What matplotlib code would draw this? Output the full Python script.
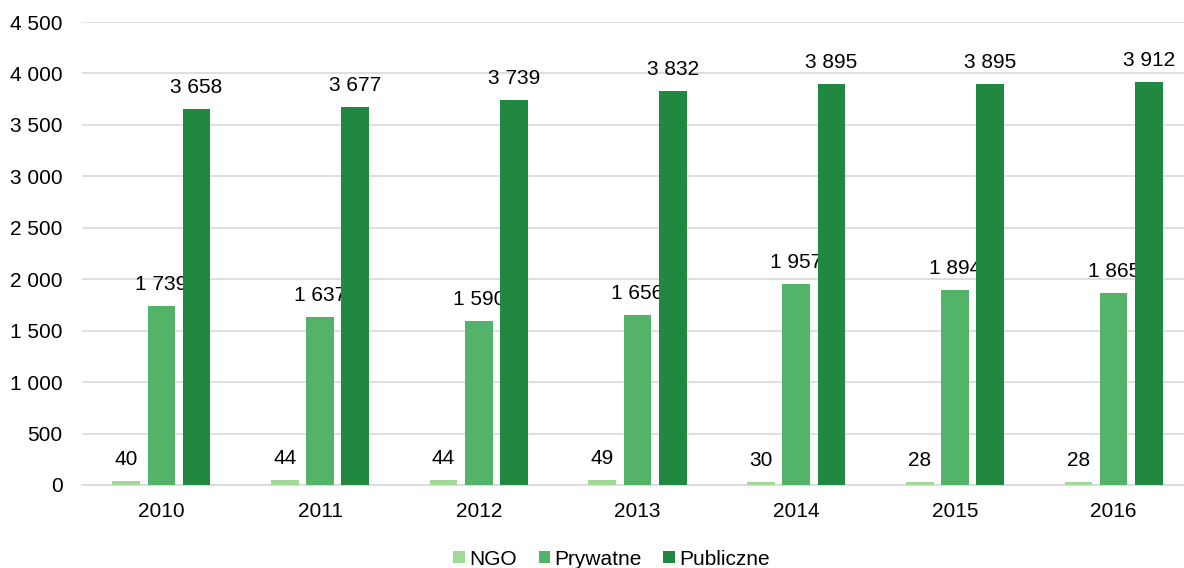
import matplotlib
matplotlib.use("Agg")
import matplotlib.pyplot as plt
import numpy as np

years = ["2010", "2011", "2012", "2013", "2014", "2015", "2016"]
ngo = [40, 44, 44, 49, 30, 28, 28]
prywatne = [1739, 1637, 1590, 1656, 1957, 1894, 1865]
publiczne = [3658, 3677, 3739, 3832, 3895, 3895, 3912]
series_names = ["NGO", "Prywatne", "Publiczne"]
colors = ["#A1DA97", "#53B469", "#20883F"]
yticks = [0, 500, 1000, 1500, 2000, 2500, 3000, 3500, 4000, 4500]

plt.rcParams['font.family'] = ['Liberation Sans', 'DejaVu Sans']

def fmt(v):
    return f"{v:,}".replace(",", " ")

fig = plt.figure(figsize=(11.84, 5.68), dpi=100)
ax = fig.add_axes([82 / 1184, 1 - 485 / 568, 1 - 82 / 1184, (485 - 22) / 568])

x = np.arange(len(years))
w = 0.174
step = 0.222
for i, (vals, name, c) in enumerate(zip([ngo, prywatne, publiczne], series_names, colors)):
    pos = x + (i - 1) * step
    ax.bar(pos, vals, width=w, color=c, label=name, zorder=3)
    for p, v in zip(pos, vals):
        ax.annotate(fmt(v), (p, v), xytext=(0, 15.5), textcoords="offset points",
                    ha="center", va="center", fontsize=15, color="#000000")

ax.set_xlim(-0.5, len(years) - 0.5 - 9 / 158.75)
ax.set_ylim(0, 4500)
ax.set_yticks(yticks)
ax.set_yticklabels([fmt(v) for v in yticks], fontsize=15)
ax.set_xticks(x)
ax.set_xticklabels(years, fontsize=15)
ax.grid(axis="y", color="#D9D9D9", linewidth=1.2, zorder=0)
for s in ["top", "right", "left"]:
    ax.spines[s].set_visible(False)
ax.spines["bottom"].set_color("#D9D9D9")
ax.spines["bottom"].set_linewidth(1.2)
ax.tick_params(axis="both", length=0, colors="#000000")
ax.tick_params(axis="x", pad=12)
ax.tick_params(axis="y", pad=14)

fig.legend(loc="lower center", bbox_to_anchor=(0.5165, -0.034), ncol=3, frameon=False,
           fontsize=15, handlelength=0.55, handleheight=0.55, handletextpad=0.2,
           columnspacing=1.05)

fig.savefig("out.png", dpi=100)
